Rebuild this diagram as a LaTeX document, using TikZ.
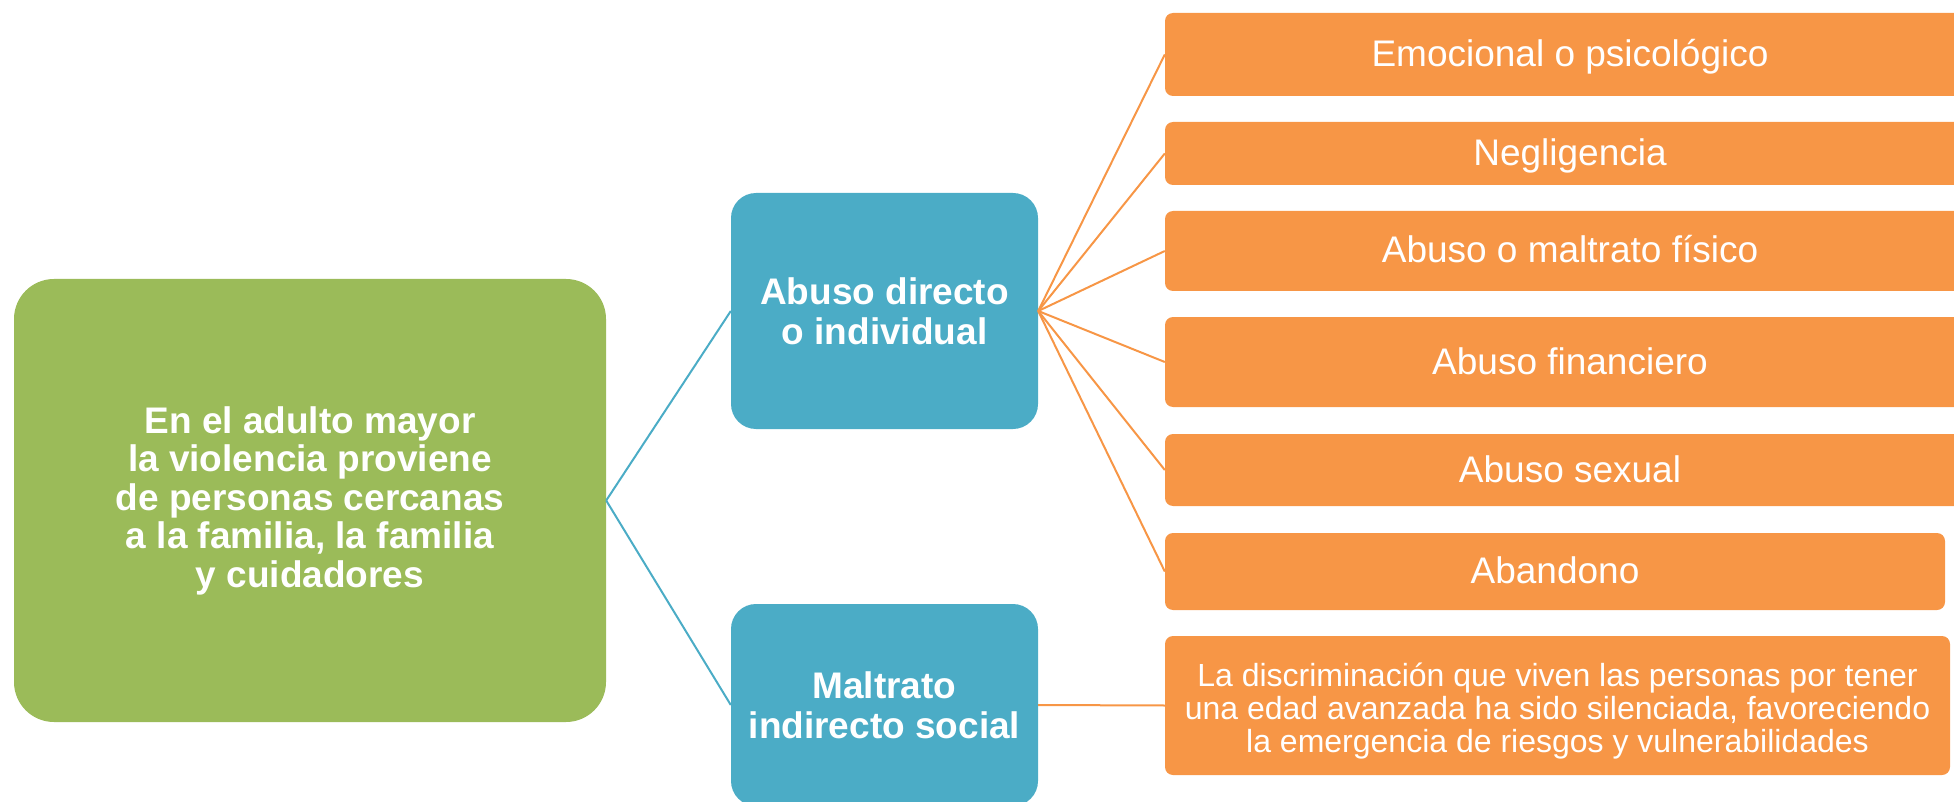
\documentclass[tikz,border=0pt]{standalone}
\usepackage{fontspec}
\setmainfont{Liberation Sans}
\definecolor{grn}{HTML}{9BBB59}
\definecolor{blu}{HTML}{4BACC6}
\definecolor{org}{HTML}{F79646}
\begin{document}
\begin{tikzpicture}[x=1pt,y=-1pt,
 base/.style={rectangle, inner sep=0pt, text=white},
 rootbox/.style={base, align=center, fill=grn, rounded corners=40pt, font=\fontsize{37}{38.5}\selectfont\bfseries},
 midbox/.style={base, align=center, fill=blu, rounded corners=25pt, font=\fontsize{37}{40}\selectfont\bfseries},
 leafbox/.style={base, fill=org, rounded corners=8pt, text height=32pt, text depth=8pt, font=\fontsize{37}{40}\selectfont},
 notebox/.style={base, align=center, fill=org, rounded corners=8pt, font=\fontsize{32}{33}\selectfont},
 bline/.style={draw=blu, line width=2pt},
 oline/.style={draw=org, line width=2pt}]
\useasboundingbox (0,0) rectangle (1954,802);
\clip (0,0) rectangle (1954,802);
\node[rootbox, minimum width=592pt, minimum height=443pt] (root) at (310,500.5)
  {En el adulto mayor\\la violencia proviene\\de personas cercanas\\a la familia, la familia\\y cuidadores};
\node[midbox, minimum width=307pt, minimum height=236pt] (b1) at (884.5,311)
  {Abuso directo\\o individual};
\node[midbox, minimum width=307pt, minimum height=202pt] (b2) at (884.5,705)
  {Maltrato\\indirecto social};
\node[leafbox, minimum width=810pt, minimum height=83pt] (l1) at (1570,54.5) {Emocional o psicológico};
\node[leafbox, minimum width=810pt, minimum height=63pt] (l2) at (1570,153.5) {Negligencia};
\node[leafbox, minimum width=810pt, minimum height=80pt] (l3) at (1570,251) {Abuso o maltrato físico};
\node[leafbox, minimum width=810pt, minimum height=90pt] (l4) at (1570,362) {Abuso financiero};
\node[leafbox, minimum width=810pt, minimum height=72pt] (l5) at (1570,470) {Abuso sexual};
\node[leafbox, minimum width=780pt, minimum height=77pt] (l6) at (1555,571.5) {Abandono};
\node[notebox, minimum width=785pt, minimum height=139pt] (l7) at (1557.5,705.5)
  {\rule{0pt}{35pt}La discriminación que viven las personas por tener\\una edad avanzada ha sido silenciada, favoreciendo\\la emergencia de riesgos y vulnerabilidades};
\draw[bline] (root.east) -- (b1.west);
\draw[bline] (root.east) -- (b2.west);
\foreach \n in {l1,l2,l3,l4,l5,l6}{\draw[oline] (b1.east) -- (\n.west);}
\draw[oline] (b2.east) -- (l7.west);
\end{tikzpicture}
\end{document}
